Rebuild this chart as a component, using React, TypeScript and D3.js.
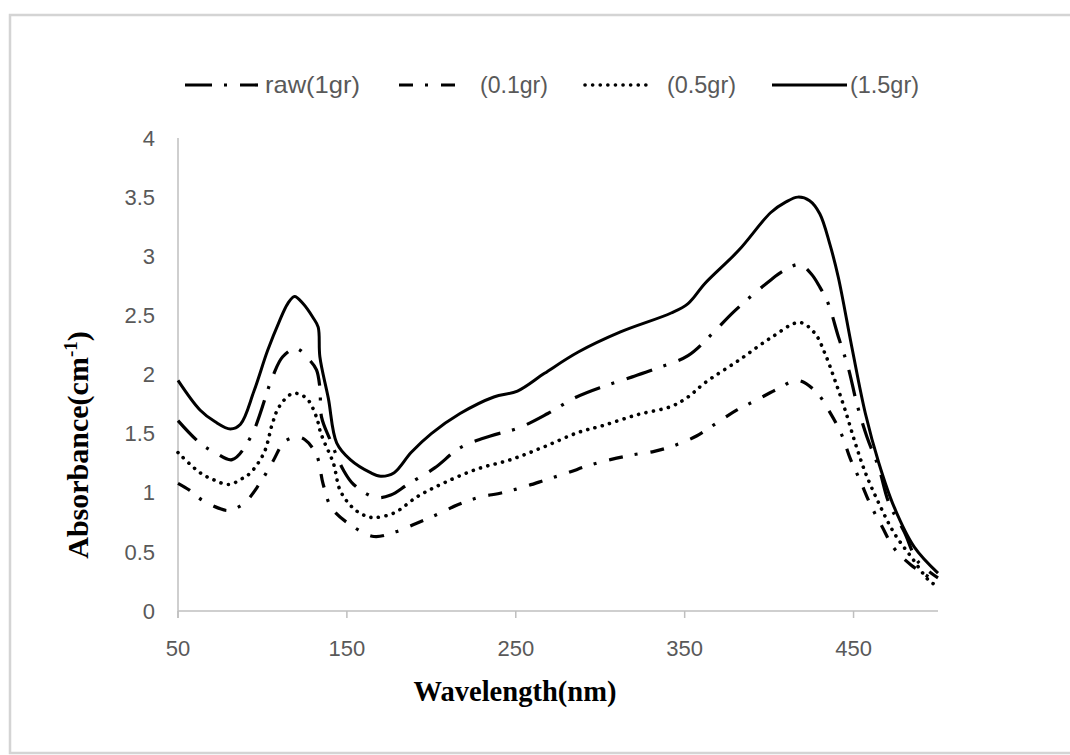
import React from 'react';
import * as d3 from 'd3';

// wavelength (nm) / absorbance pairs
const wl15 = [50, 63, 72, 81, 87, 95, 103, 110, 115, 119, 124, 130, 133, 134, 139, 144, 152, 164, 170, 178, 188, 200, 217, 237, 251, 267, 287, 312, 342, 352, 362, 382, 401, 410, 417, 424, 430, 436, 441, 449, 457, 465, 474, 486, 500];
const ab15 = [1.95, 1.70, 1.60, 1.54, 1.58, 1.86, 2.20, 2.45, 2.60, 2.66, 2.60, 2.48, 2.40, 2.15, 1.80, 1.42, 1.28, 1.17, 1.14, 1.17, 1.34, 1.50, 1.67, 1.81, 1.86, 2.01, 2.19, 2.36, 2.52, 2.60, 2.77, 3.05, 3.37, 3.46, 3.50, 3.47, 3.36, 3.10, 2.82, 2.23, 1.67, 1.25, 0.88, 0.54, 0.32];

const wlRaw = [50, 63, 72, 82, 93, 106, 112, 120, 128, 132, 134, 135, 140, 148, 154, 167, 176, 186, 202, 217, 235, 252, 269, 286, 302, 319, 335, 352, 366, 379, 401, 409, 418, 425, 430, 435, 441, 447, 452, 458, 465, 471, 480, 488, 500];
const abRaw = [1.61, 1.42, 1.34, 1.28, 1.47, 1.98, 2.15, 2.22, 2.12, 2.04, 1.89, 1.64, 1.45, 1.19, 1.07, 0.96, 0.98, 1.07, 1.21, 1.38, 1.48, 1.55, 1.67, 1.81, 1.90, 1.98, 2.06, 2.16, 2.34, 2.53, 2.80, 2.88, 2.93, 2.85, 2.74, 2.60, 2.32, 2.05, 1.75, 1.47, 1.21, 0.91, 0.67, 0.42, 0.28];

const wl05 = [50, 63, 71, 80, 88, 93, 101, 106, 110, 118, 126, 132, 134, 136, 142, 146, 153, 160, 166, 178, 192, 207, 227, 247, 267, 287, 302, 322, 342, 352, 362, 382, 401, 418, 427, 433, 439, 445, 451, 457, 465, 474, 484, 496, 500];
const ab05 = [1.34, 1.17, 1.11, 1.07, 1.12, 1.17, 1.34, 1.59, 1.73, 1.84, 1.80, 1.64, 1.53, 1.45, 1.25, 1.02, 0.88, 0.81, 0.79, 0.83, 0.97, 1.08, 1.20, 1.28, 1.39, 1.51, 1.57, 1.66, 1.73, 1.81, 1.93, 2.12, 2.31, 2.44, 2.35, 2.18, 1.95, 1.70, 1.42, 1.17, 0.91, 0.66, 0.46, 0.24, 0.22];

const wl01 = [50, 57, 64, 74, 80, 89, 98, 106, 113, 120, 125, 132, 136, 141, 153, 166, 179, 191, 204, 216, 228, 242, 255, 268, 281, 293, 306, 319, 332, 344, 357, 369, 381, 392, 404, 417, 428, 436, 443, 448, 454, 460, 467, 474, 484, 500];
const ab01 = [1.08, 1.02, 0.94, 0.87, 0.85, 0.91, 1.07, 1.26, 1.43, 1.47, 1.45, 1.32, 1.07, 0.87, 0.72, 0.63, 0.67, 0.74, 0.82, 0.90, 0.96, 1.00, 1.05, 1.11, 1.17, 1.23, 1.28, 1.32, 1.35, 1.40, 1.48, 1.59, 1.70, 1.78, 1.87, 1.95, 1.85, 1.68, 1.49, 1.29, 1.10, 0.90, 0.71, 0.53, 0.39, 0.24];

const xTicks = [50, 150, 250, 350, 450];
const yTicks = [0, 0.5, 1, 1.5, 2, 2.5, 3, 3.5, 4];

const series = [
  { name: 'raw(1gr)', x: wlRaw, y: abRaw, dash: '27 12 3 13', width: 3.2, lx: 185, lw: 73, tx: 265, tl: 95 },
  { name: '(0.1gr)', x: wl01, y: ab01, dash: '14 12 3 13', width: 3.2, lx: 399, lw: 56, tx: 480, tl: 68 },
  { name: '(0.5gr)', x: wl05, y: ab05, dash: '0.1 7.5', width: 3.6, lx: 585, lw: 68, tx: 667, tl: 69 },
  { name: '(1.5gr)', x: wl15, y: ab15, dash: '', width: 3, lx: 772, lw: 75, tx: 850, tl: 69 },
];

const W = 1070;
const H = 755;
const left = 178;
const right = 938;
const top = 138;
const bottom = 611;

export default function App() {
  const x = d3.scaleLinear().domain([50, 500]).range([left, right]);
  const y = d3.scaleLinear().domain([0, 4]).range([bottom, top]);

  const line = d3
    .line<[number, number]>()
    .x(d => x(d[0]))
    .y(d => y(d[1]))
    .curve(d3.curveCatmullRom.alpha(0.5));

  const tickFont = '"Liberation Sans", Arial, sans-serif';
  const titleFont = '"Liberation Serif", "Times New Roman", serif';

  return (
    <div style={{ position: 'absolute', left: 0, top: 0, width: W, height: H, overflow: 'hidden' }}>
      <svg width={W} height={H} style={{ display: 'block', background: '#fff' }}>
        {/* chart frame: only left, top and bottom edges show in the picture */}
        <path d={`M${W},15H10V753H${W}`} fill="none" stroke="#d4d4d4" strokeWidth={2.5} />

        {/* legend */}
        {series.map(s => (
          <g key={s.name}>
            <line
              x1={s.lx}
              x2={s.lx + s.lw}
              y1={85}
              y2={85}
              stroke="#000"
              strokeWidth={s.width}
              strokeDasharray={s.dash || undefined}
              strokeLinecap={s.dash.startsWith('0.1') ? 'round' : 'butt'}
            />
            <text
              x={s.tx}
              y={85}
              dy="0.35em"
              fontFamily={tickFont}
              fontSize={24}
              fill="#595959"
              textLength={s.tl}
              lengthAdjust="spacingAndGlyphs"
            >
              {s.name}
            </text>
          </g>
        ))}

        {/* axes */}
        <line x1={left} x2={left} y1={top} y2={bottom + 7} stroke="#bfbfbf" strokeWidth={1.5} />
        <line x1={left} x2={right} y1={bottom} y2={bottom} stroke="#bfbfbf" strokeWidth={1.5} />
        {xTicks.map(t => (
          <g key={t}>
            <line x1={x(t)} x2={x(t)} y1={bottom} y2={bottom + 7} stroke="#bfbfbf" strokeWidth={1.5} />
            <text x={x(t)} y={648} dy="0.35em" textAnchor="middle" fontFamily={tickFont} fontSize={22} fill="#595959">
              {t}
            </text>
          </g>
        ))}
        {yTicks.map(t => (
          <text key={t} x={155} y={y(t)} dy="0.35em" textAnchor="end" fontFamily={tickFont} fontSize={22} fill="#595959">
            {t}
          </text>
        ))}

        {/* series */}
        {series.map(s => (
          <path
            key={s.name}
            d={line(s.x.map((v, i) => [v, s.y[i]] as [number, number])) || ''}
            fill="none"
            stroke="#000"
            strokeWidth={s.width}
            strokeDasharray={s.dash || undefined}
            strokeLinecap={s.dash.startsWith('0.1') ? 'round' : 'butt'}
            strokeLinejoin="round"
          />
        ))}

        {/* axis titles */}
        <text x={515} y={690} dy="0.35em" textAnchor="middle" fontFamily={titleFont} fontWeight="bold" fontSize={30}
          fill="#000" textLength={203} lengthAdjust="spacingAndGlyphs">
          Wavelength(nm)
        </text>
        <text transform="translate(77,445) rotate(-90)" textAnchor="middle" dy="0.35em" fontFamily={titleFont}
          fontWeight="bold" fontSize={30} fill="#000">
          Absorbance(cm<tspan dy="-11" fontSize={19}>-1</tspan><tspan dy="11">)</tspan>
        </text>
      </svg>
    </div>
  );
}
